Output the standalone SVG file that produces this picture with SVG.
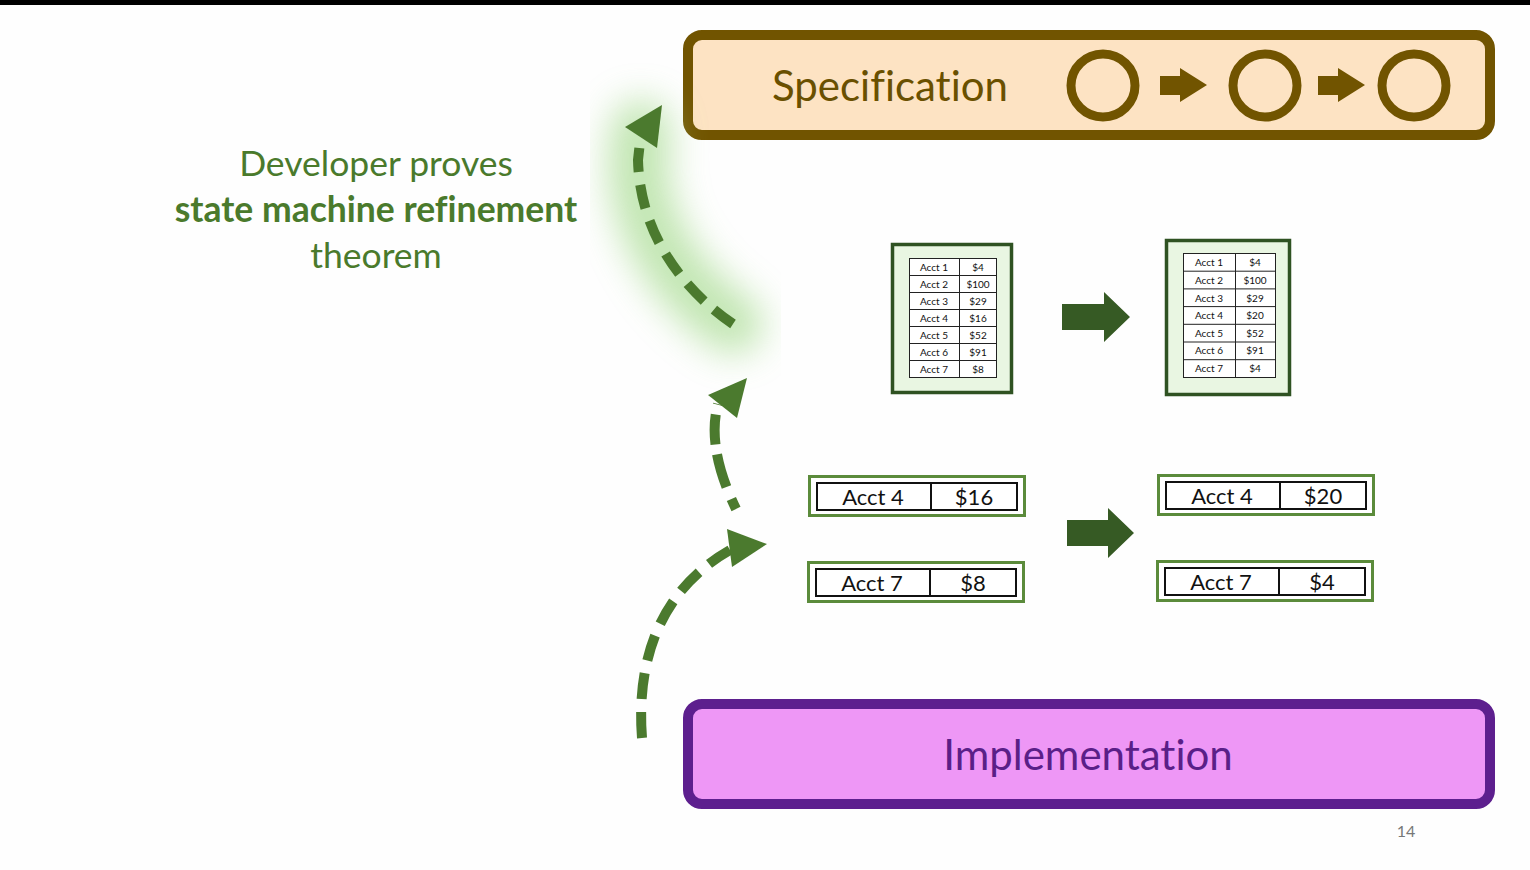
<svg xmlns="http://www.w3.org/2000/svg" width="1530" height="870" viewBox="0 0 1530 870">
  <style>
    .lbl { font-family: Lato, "Open Sans", sans-serif; font-variant-ligatures: none; }
    .cap { fill: #4a7a2c; font-size: 35.5px; text-anchor: middle; }
    .big { font-size: 42px; text-anchor: middle; }
    .frame { fill: #e9f6e2; stroke: #2f5222; stroke-width: 3.5; }
    .grid { fill: #ffffff; stroke: #222; stroke-width: 1; }
    .cell { font-size: 10px; fill: #111; text-anchor: middle; }
    .rowframe { fill: #ffffff; stroke: #5b8b3b; stroke-width: 3; }
    .rowgrid { fill: #ffffff; stroke: #111; stroke-width: 2; }
    .rowtxt { font-size: 22px; fill: #111; text-anchor: middle; }
    .dash { fill: none; stroke: #4b7a2e; stroke-width: 10; }
    .head { fill: #4b7a2e; }
    .step { fill: #365a24; }
  </style>
  <defs>
    <filter id="glow" x="-50%" y="-50%" width="200%" height="200%">
      <feGaussianBlur stdDeviation="18"/>
    </filter>
  </defs>

  <rect width="1530" height="870" fill="#fefefe"/>
  <rect width="1530" height="5" fill="#000"/>

  <!-- Specification -->
  <g id="specification">
    <rect x="688" y="35" width="802" height="100" rx="14" fill="#fde3c3" stroke="#715400" stroke-width="10"/>
    <text class="lbl big" x="890" y="101" fill="#6a5000">Specification</text>
    <g fill="none" stroke="#715400" stroke-width="9">
      <ellipse cx="1103" cy="85.5" rx="32" ry="31.5"/>
      <ellipse cx="1265" cy="85.5" rx="32" ry="31.5"/>
      <ellipse cx="1414" cy="85.5" rx="32" ry="31.5"/>
    </g>
    <g fill="#715400">
      <polygon points="1160,76 1180,76 1180,68 1207,85 1180,102 1180,95 1160,95"/>
      <polygon points="1318,76 1338,76 1338,68 1365,85 1338,102 1338,95 1318,95"/>
    </g>
  </g>

  <!-- Implementation -->
  <g id="implementation">
    <rect x="688" y="704" width="802" height="100" rx="14" fill="#ee97f6" stroke="#5d1f8e" stroke-width="10"/>
    <text class="lbl big" x="1088" y="770" fill="#5a1f88">Implementation</text>
  </g>

  <!-- Caption -->
  <g id="caption">
    <text class="lbl cap" x="376" y="176">Developer proves</text>
    <text class="lbl cap" x="376" y="222" font-weight="bold">state machine refinement</text>
    <text class="lbl cap" x="376" y="268">theorem</text>
  </g>

  <!-- Full account table, before -->
  <g id="table-before">
    <rect class="frame" x="892.5" y="244.5" width="119" height="148"/>
    <rect class="grid" x="909.5" y="258.5" width="87" height="119"/>
    <g stroke="#222" stroke-width="1">
      <line x1="959.5" y1="258.5" x2="959.5" y2="377.5"/>
      <line x1="909.5" y1="275.5" x2="996.5" y2="275.5"/>
      <line x1="909.5" y1="292.5" x2="996.5" y2="292.5"/>
      <line x1="909.5" y1="309.5" x2="996.5" y2="309.5"/>
      <line x1="909.5" y1="326.5" x2="996.5" y2="326.5"/>
      <line x1="909.5" y1="343.5" x2="996.5" y2="343.5"/>
      <line x1="909.5" y1="360.5" x2="996.5" y2="360.5"/>
    </g>
    <g class="lbl cell">
      <text x="934" y="271">Acct 1</text><text x="978" y="271">$4</text>
      <text x="934" y="288">Acct 2</text><text x="978" y="288">$100</text>
      <text x="934" y="305">Acct 3</text><text x="978" y="305">$29</text>
      <text x="934" y="322">Acct 4</text><text x="978" y="322">$16</text>
      <text x="934" y="339">Acct 5</text><text x="978" y="339">$52</text>
      <text x="934" y="356">Acct 6</text><text x="978" y="356">$91</text>
      <text x="934" y="373">Acct 7</text><text x="978" y="373">$8</text>
    </g>
  </g>

  <!-- Full account table, after -->
  <g id="table-after">
    <rect class="frame" x="1166.5" y="240.5" width="123" height="154"/>
    <rect class="grid" x="1183.5" y="253.5" width="92" height="124"/>
    <g stroke="#222" stroke-width="1">
      <line x1="1235.5" y1="253.5" x2="1235.5" y2="377.5"/>
      <line x1="1183.5" y1="271.2" x2="1275.5" y2="271.2"/>
      <line x1="1183.5" y1="288.9" x2="1275.5" y2="288.9"/>
      <line x1="1183.5" y1="306.6" x2="1275.5" y2="306.6"/>
      <line x1="1183.5" y1="324.3" x2="1275.5" y2="324.3"/>
      <line x1="1183.5" y1="342" x2="1275.5" y2="342"/>
      <line x1="1183.5" y1="359.7" x2="1275.5" y2="359.7"/>
    </g>
    <g class="lbl cell">
      <text x="1209" y="266">Acct 1</text><text x="1255" y="266">$4</text>
      <text x="1209" y="284">Acct 2</text><text x="1255" y="284">$100</text>
      <text x="1209" y="302">Acct 3</text><text x="1255" y="302">$29</text>
      <text x="1209" y="319">Acct 4</text><text x="1255" y="319">$20</text>
      <text x="1209" y="337">Acct 5</text><text x="1255" y="337">$52</text>
      <text x="1209" y="354">Acct 6</text><text x="1255" y="354">$91</text>
      <text x="1209" y="372">Acct 7</text><text x="1255" y="372">$4</text>
    </g>
  </g>

  <!-- Single-row entries, before -->
  <g id="acct4-before">
    <rect class="rowframe" x="809.5" y="476.5" width="215" height="39"/>
    <rect class="rowgrid" x="817" y="483" width="200" height="27"/>
    <line x1="931" y1="483" x2="931" y2="510" stroke="#111" stroke-width="2"/>
    <text class="lbl rowtxt" x="873" y="505">Acct 4</text>
    <text class="lbl rowtxt" x="974" y="505">$16</text>
  </g>
  <g id="acct7-before">
    <rect class="rowframe" x="808.5" y="562.5" width="215" height="39"/>
    <rect class="rowgrid" x="816" y="569" width="200" height="27"/>
    <line x1="930" y1="569" x2="930" y2="596" stroke="#111" stroke-width="2"/>
    <text class="lbl rowtxt" x="872" y="591">Acct 7</text>
    <text class="lbl rowtxt" x="973" y="591">$8</text>
  </g>

  <!-- Single-row entries, after -->
  <g id="acct4-after">
    <rect class="rowframe" x="1158.5" y="475.5" width="215" height="39"/>
    <rect class="rowgrid" x="1166" y="482" width="200" height="27"/>
    <line x1="1280" y1="482" x2="1280" y2="509" stroke="#111" stroke-width="2"/>
    <text class="lbl rowtxt" x="1222" y="504">Acct 4</text>
    <text class="lbl rowtxt" x="1323" y="504">$20</text>
  </g>
  <g id="acct7-after">
    <rect class="rowframe" x="1157.5" y="561.5" width="215" height="39"/>
    <rect class="rowgrid" x="1165" y="568" width="200" height="27"/>
    <line x1="1279" y1="568" x2="1279" y2="595" stroke="#111" stroke-width="2"/>
    <text class="lbl rowtxt" x="1221" y="590">Acct 7</text>
    <text class="lbl rowtxt" x="1322" y="590">$4</text>
  </g>

  <g id="connectors">
    <!-- state step arrows -->
    <polygon class="step" points="1062,304 1104,304 1104,292 1130,317 1104,342 1104,330 1062,330"/>
    <polygon class="step" points="1067,520 1108,520 1108,508 1134,533 1108,558 1108,546 1067,546"/>

    <!-- refinement arrow with glow -->
    <path d="M 733 324 C 690 295, 640 240, 638 165 L 641 130" fill="none" stroke="#a8dc92" stroke-width="60" stroke-linecap="round" opacity="0.7" filter="url(#glow)"/>
    <path class="dash" d="M 733 324 C 690 295, 640 240, 638 160 L 640 142" stroke-dasharray="24 13"/>
    <polygon class="head" points="625,127 662,105 657,148"/>

    <!-- abstraction arrow -->
    <path class="dash" d="M 736 509 C 722 480, 708 440, 718 404" stroke-dasharray="11 13 34 10 30 10"/>
    <polygon class="head" points="708,395 747,378 737,418"/>

    <!-- implementation-to-state arrow -->
    <path class="dash" d="M 642 738 C 636 660, 660 590, 730 550" stroke-dasharray="26 13"/>
    <polygon class="head" points="727,529 767,544 732,567"/>
  </g>

  <text class="lbl" x="1406" y="837" font-size="16" fill="#777" text-anchor="middle">14</text>
</svg>
